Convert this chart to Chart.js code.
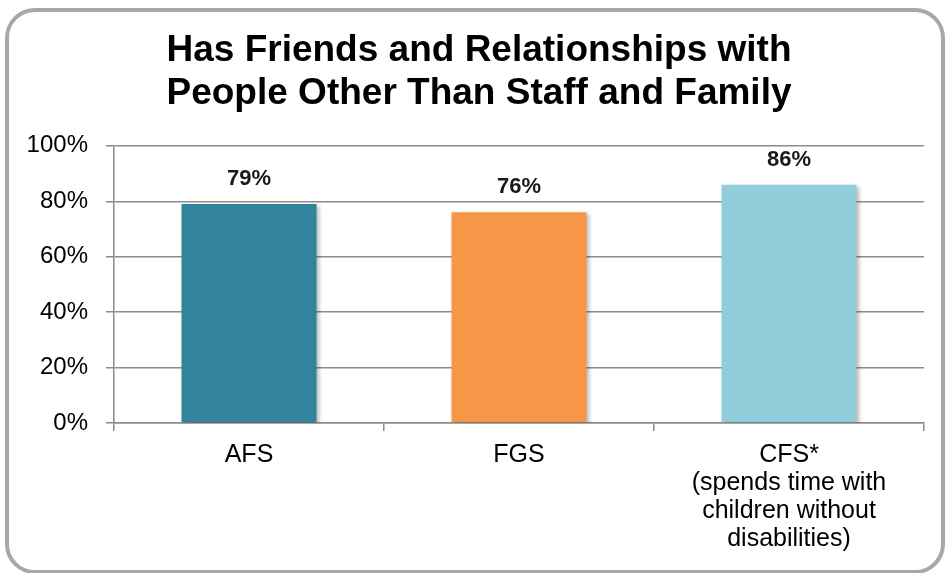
<!DOCTYPE html>
<html>
<head>
<meta charset="utf-8">
<script src="https://cdn.jsdelivr.net/npm/chart.js@4/dist/chart.umd.min.js"></script>
<style>
  body { margin: 0; background: #fff; }
  #wrap { position: relative; width: 945px; height: 573px; overflow: hidden; }
  #frame { position: absolute; left: 5px; top: 8px; width: 940px; height: 566px; box-sizing: border-box;
           border: 4px solid #a8a8a8; border-radius: 30px; pointer-events: none; }
  canvas { position: absolute; left: 0; top: 0; }
</style>
</head>
<body>
<div id="wrap">
  <canvas id="myChart" width="945" height="573"></canvas>
  <div id="frame"></div>
</div>
<script>
var categories = [
  'AFS',
  'FGS',
  ['CFS*', '(spends time with', 'children without', 'disabilities)']
];
var values = [79, 76, 86];
var barColors = ['#31849B', '#F79646', '#92CDDC'];
var yTicks = [0, 20, 40, 60, 80, 100];

var fontName = "'Liberation Sans', Arial, sans-serif";

// soft shadow under the bars
var barShadow = {
  id: 'barShadow',
  beforeDatasetsDraw: function (chart) {
    var c = chart.ctx;
    c.save();
    c.shadowColor = 'rgba(0,0,0,0.28)';
    c.shadowBlur = 4;
    c.shadowOffsetX = 2;
    c.shadowOffsetY = 2;
  },
  afterDatasetsDraw: function (chart) {
    chart.ctx.restore();
  }
};

// value labels above each bar
var valueLabels = {
  id: 'valueLabels',
  afterDatasetsDraw: function (chart) {
    var c = chart.ctx;
    var meta = chart.getDatasetMeta(0);
    c.save();
    c.font = 'bold 22px ' + fontName;
    c.fillStyle = '#1a1a1a';
    c.textAlign = 'center';
    c.textBaseline = 'middle';
    meta.data.forEach(function (bar, i) {
      c.fillText(values[i] + '%', bar.x, bar.y - 25);
    });
    c.restore();
  }
};

var ctx = document.getElementById('myChart').getContext('2d');
var myChart = new Chart(ctx, {
  type: 'bar',
  data: {
    labels: categories,
    datasets: [{
      data: values,
      backgroundColor: barColors,
      borderWidth: 0,
      barPercentage: 0.5,
      categoryPercentage: 1.0
    }]
  },
  options: {
    responsive: false,
    animation: false,
    layout: { padding: { left: 13, right: 0, top: 0, bottom: 0 } },
    plugins: {
      legend: { display: false },
      tooltip: { enabled: false },
      title: {
        display: true,
        text: ['Has Friends and Relationships with', 'People Other Than Staff and Family'],
        color: '#000',
        font: { family: fontName, size: 37, weight: 'bold', lineHeight: 1.16 },
        padding: { top: 29, bottom: 31 }
      }
    },
    scales: {
      y: {
        min: 0,
        max: 100,
        afterBuildTicks: function (s) {
          s.ticks = yTicks.map(function (v) { return { value: v }; });
        },
        afterFit: function (s) { s.width = 101; },
        ticks: {
          color: '#000',
          font: { family: fontName, size: 24 },
          padding: 18,
          callback: function (v) { return v + '%'; }
        },
        grid: { color: '#8c8c8c', lineWidth: 1.5, tickLength: 8 },
        border: { color: '#8c8c8c', width: 1.5 }
      },
      // empty right-hand strip so the plot stops short of the frame
      spacer: {
        type: 'linear',
        position: 'right',
        afterFit: function (s) { s.width = 21; },
        ticks: { display: false },
        grid: { display: false },
        border: { display: false }
      },
      x: {
        afterFit: function (s) { s.height = 150; },
        ticks: {
          color: '#000',
          font: { family: fontName, size: 25, lineHeight: 1.12 },
          padding: 10,
          maxRotation: 0
        },
        grid: { drawOnChartArea: false, color: '#8c8c8c', lineWidth: 1.5, tickLength: 8, offset: true },
        border: { color: '#8c8c8c', width: 1.5 }
      }
    }
  },
  plugins: [barShadow, valueLabels]
});
</script>
</body>
</html>
